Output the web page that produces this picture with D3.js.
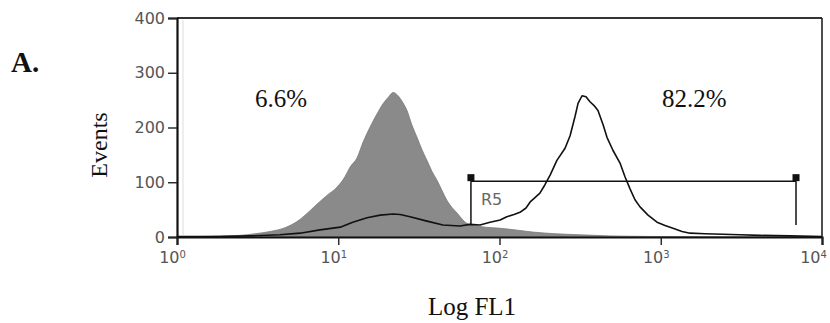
<!DOCTYPE html>
<html>
<head>
<meta charset="utf-8">
<script src="https://cdn.jsdelivr.net/npm/d3@7/dist/d3.min.js"></script>
<style>
  html, body { margin: 0; padding: 0; background: #fff; }
  svg { display: block; }
</style>
</head>
<body>
<svg id="chart" width="830" height="323"></svg>
<script>
// Log FL1 channel values (linear units) and event counts for the isotype control (filled)
const controlFL1 = [1, 1.39, 1.85, 2.46, 3.05, 3.78, 4.68, 5.79, 6.68, 7.38, 8.51, 9.82, 11.0, 11.8,
  13.1, 14.2, 15.7, 17.4, 19.0, 20.4, 21.9, 23.5, 25.2, 26.7, 28.6, 30.8, 33.0, 35.5, 38.1, 40.9,
  44.0, 47.2, 50.7, 54.5, 58.5, 62.8, 70.5, 81.3, 101, 125, 161, 221, 316, 484, 857, 1750, 10000];
const controlEvents = [1, 1, 2, 3, 6, 10, 17, 32, 48, 60, 76, 91, 110, 127,
  145, 172, 200, 225, 244, 255, 264, 258, 245, 231, 205, 182, 160, 140, 120, 104,
  85, 67, 54, 44, 33, 25, 21, 18, 16, 13, 9, 6, 4, 2, 1, 0.5, 0];

// Stained sample (open line)
const stainedFL1 = [1, 1.85, 2.84, 4.35, 5.79, 7.71, 10.3, 12.3, 15.1, 18.2, 21.9, 24.2, 27.9, 35.5,
  44.6, 56.9, 65.6, 75.7, 87.3, 101, 111, 123, 134, 146, 155, 166, 178, 191, 206, 227, 255, 274,
  294, 307, 325, 344, 364, 386, 408, 439, 464, 506, 559, 600, 645, 692, 744, 834, 948, 1063,
  1191, 1355, 1518, 1881, 2432, 3100, 4130, 6340, 10000];
const stainedEvents = [1, 1, 2, 4, 7, 13, 18, 27, 35, 40, 42, 41, 37, 29,
  22, 20, 23, 22, 27, 31, 37, 41, 45, 53, 64, 72, 80, 95, 113, 140, 162, 185,
  220, 244, 258, 256, 247, 240, 231, 205, 182, 158, 135, 110, 88, 68, 55, 40, 27, 21,
  16, 10, 7, 6, 5, 4, 3, 2, 1];

// Marker region R5: FL1 range and height
const gateName = "R5";
const gateRange = [66.5, 6900];
const gateLevel = 102;

const xTicks = [1, 10, 100, 1000, 10000];
const xExponents = ["0", "1", "2", "3", "4"];
const yTicks = [0, 100, 200, 300, 400];

const percentLabels = [
  { text: "6.6%", fl1: 3.05 },
  { text: "82.2%", fl1: 1018 }
];

const svg = d3.select("#chart");
const plotLeft = 177, plotRight = 822, plotTop = 18, plotBottom = 237;

const x = d3.scaleLog().domain([1, 10000]).range([plotLeft, plotRight]);
const y = d3.scaleLinear().domain([0, 400]).range([plotBottom, plotTop]);

// filled control histogram
const area = d3.area()
  .x((d, i) => x(controlFL1[i]))
  .y0(y(0))
  .y1((d) => y(d))
  .curve(d3.curveMonotoneX);
svg.append("path")
  .datum(controlEvents)
  .attr("d", area)
  .attr("fill", "#8a8a8a")
  .attr("stroke", "#7a7a7a")
  .attr("stroke-width", 0.8);

// stained sample outline
const line = d3.line()
  .x((d, i) => x(stainedFL1[i]))
  .y((d) => y(d))
  .curve(d3.curveLinear);
svg.append("path")
  .datum(stainedEvents)
  .attr("d", line)
  .attr("fill", "none")
  .attr("stroke", "#111")
  .attr("stroke-width", 1.6)
  .attr("stroke-linejoin", "round");

// inner frame shadow line
svg.append("line")
  .attr("x1", plotLeft + 6).attr("x2", plotLeft + 6)
  .attr("y1", plotTop + 2).attr("y2", plotBottom - 2)
  .attr("stroke", "#e2e2e2").attr("stroke-width", 1.2);

// frame
svg.append("line").attr("x1", plotLeft).attr("x2", plotRight).attr("y1", plotTop).attr("y2", plotTop)
  .attr("stroke", "#333").attr("stroke-width", 2);
svg.append("line").attr("x1", plotRight).attr("x2", plotRight).attr("y1", plotTop).attr("y2", plotBottom)
  .attr("stroke", "#222").attr("stroke-width", 1.6);

// y axis
const yAxis = svg.append("g")
  .attr("transform", `translate(${plotLeft},0)`)
  .call(d3.axisLeft(y).tickValues(yTicks).tickSize(9).tickPadding(3).tickFormat(d3.format("d")));
yAxis.select(".domain").attr("stroke", "#111").attr("stroke-width", 2.2);
yAxis.selectAll(".tick line").attr("stroke", "#222").attr("stroke-width", 1.4);
yAxis.selectAll(".tick text")
  .attr("font-family", "DejaVu Sans, sans-serif")
  .attr("font-size", 16)
  .attr("fill", "#555");

// x axis
const xAxis = svg.append("g")
  .attr("transform", `translate(0,${plotBottom})`)
  .call(d3.axisBottom(x).tickValues(xTicks).tickSize(8).tickPadding(7).tickFormat(() => ""));
xAxis.select(".domain").attr("stroke", "#111").attr("stroke-width", 2.2);
xAxis.selectAll(".tick line").attr("stroke", "#222").attr("stroke-width", 1.4);
xAxis.selectAll(".tick text")
  .attr("font-family", "DejaVu Sans, sans-serif")
  .attr("font-size", 16)
  .attr("fill", "#555")
  .attr("dx", (d, i) => (i === xTicks.length - 1 ? -9 : -5))
  .each(function (d, i) {
    const t = d3.select(this);
    t.append("tspan").text("10");
    t.append("tspan").text(xExponents[i]).attr("font-size", 10).attr("dy", "-0.55em");
  });

// gate bar
const gy = y(gateLevel);
const g = svg.append("g").attr("stroke", "#111").attr("stroke-width", 1.5);
g.append("line").attr("x1", x(gateRange[0])).attr("x2", x(gateRange[1])).attr("y1", gy).attr("y2", gy);
gateRange.forEach((v) => {
  g.append("line").attr("x1", x(v)).attr("x2", x(v)).attr("y1", gy).attr("y2", y(22));
  svg.append("rect")
    .attr("x", x(v) - 3.5).attr("y", gy - 7)
    .attr("width", 7).attr("height", 7)
    .attr("fill", "#111");
});
svg.append("text")
  .attr("x", x(gateRange[0]) + 10).attr("y", gy + 24)
  .attr("font-family", "DejaVu Sans, sans-serif")
  .attr("font-size", 16)
  .attr("fill", "#666")
  .text(gateName);

// percentage annotations
svg.selectAll(".pct")
  .data(percentLabels)
  .join("text")
  .attr("class", "pct")
  .attr("x", (d) => x(d.fl1))
  .attr("y", 107)
  .attr("font-family", "Liberation Serif, Times New Roman, serif")
  .attr("font-size", 25)
  .attr("fill", "#111")
  .text((d) => d.text);

// axis titles and panel letter
svg.append("text")
  .attr("x", 472).attr("y", 315)
  .attr("text-anchor", "middle")
  .attr("font-family", "Liberation Serif, Times New Roman, serif")
  .attr("font-size", 25)
  .attr("fill", "#111")
  .text("Log FL1");

svg.append("text")
  .attr("transform", "translate(107,145) rotate(-90)")
  .attr("text-anchor", "middle")
  .attr("font-family", "Liberation Serif, Times New Roman, serif")
  .attr("font-size", 24)
  .attr("fill", "#111")
  .text("Events");

svg.append("text")
  .attr("x", 11).attr("y", 72)
  .attr("font-family", "Liberation Serif, Times New Roman, serif")
  .attr("font-weight", "bold")
  .attr("font-size", 29)
  .attr("fill", "#111")
  .text("A.");
</script>
</body>
</html>
